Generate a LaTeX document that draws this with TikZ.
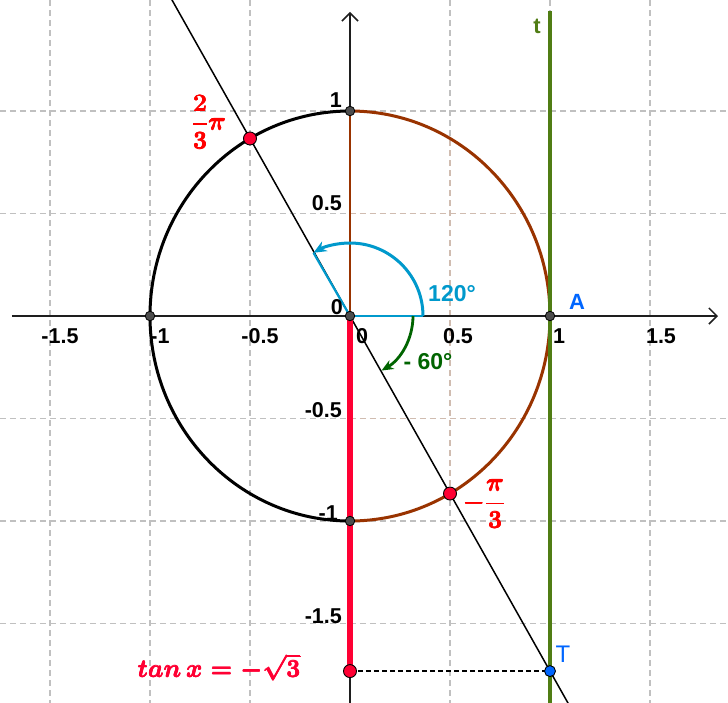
\documentclass[tikz,border=0pt]{standalone}
\usepackage[no-math]{fontspec}
\newfontfamily\lsans{Liberation Sans}
\usetikzlibrary{arrows.meta}
\definecolor{gridgray}{RGB}{192,192,192}
\definecolor{gridbrown}{RGB}{208,188,176}
\definecolor{axiscol}{RGB}{30,30,30}
\definecolor{ggbrown}{RGB}{153,51,0}
\definecolor{ggred}{RGB}{255,0,51}
\definecolor{labred}{RGB}{255,0,0}
\definecolor{tgreen}{RGB}{80,125,20}
\definecolor{anggreen}{RGB}{0,100,0}
\definecolor{angblue}{RGB}{0,153,204}
\definecolor{ptblue}{RGB}{0,102,255}
\definecolor{ptgray}{RGB}{77,77,77}
\newcommand{\mylabfont}{\fontsize{29}{29}\selectfont\mathversion{bold}}
\newcommand{\fakebold}[1]{\leavevmode\rlap{\kern0.4pt#1}\rlap{\kern0.2pt\raisebox{0.25pt}{#1}}\rlap{\kern0.2pt\raisebox{-0.25pt}{#1}}#1\kern0.4pt}
\begin{document}
\begin{tikzpicture}[x=200pt,y=205pt,
  gridline/.style={gridgray,line width=1.3pt,dash pattern=on 6pt off 4pt},
  gridtint/.style={gridbrown,line width=1.3pt,dash pattern=on 6pt off 4pt},
  axisline/.style={axiscol,line width=1.5pt,-{Straight Barb[length=8pt,width=16pt,line width=1.5pt]}},
  circline/.style={line width=3pt},
  ticklab/.style={font=\lsans\bfseries\fontsize{21.5}{21.5}\selectfont,inner sep=0pt},
  gpt/.style={circle,fill=ptgray,draw=black,line width=0.8pt,inner sep=0pt,minimum size=9.5pt},
  rpt/.style={circle,fill=ggred,draw=black,line width=0.9pt,inner sep=0pt,minimum size=13pt},
  bpt/.style={circle,fill=ptblue,draw=black,line width=0.9pt,inner sep=0pt,minimum size=11pt},
  mathlab/.style={inner sep=0pt,font=\mylabfont}]
\clip (-1.75,-1.8829) rectangle (1.89,1.5415);
\fill[white] (-1.75,-1.8829) rectangle (1.89,1.5415);
% grid
\foreach \x in {-1.5,-1,-0.5,0.5,1,1.5} \draw[gridline] (\x,-1.95) -- (\x,1.6);
\foreach \y in {-1.5,-1,-0.5,0.5,1} \draw[gridline] (-1.8,\y) -- (1.95,\y);
\begin{scope}
  \clip (0,-1) arc[start angle=-90,end angle=90,radius=1] -- cycle;
  \foreach \x in {0.5,1} \draw[gridtint] (\x,-1.95) -- (\x,1.6);
  \foreach \y in {-1,-0.5,0.5,1} \draw[gridtint] (-1.8,\y) -- (1.95,\y);
\end{scope}
% coordinates
\coordinate (O) at (0,0);
\coordinate (A) at (1,0);
\coordinate (B) at (0,1);
\coordinate (C) at (-1,0);
\coordinate (D) at (0,-1);
\coordinate (P) at (-0.5,0.8660);
\coordinate (Q) at (0.5,-0.8660);
\coordinate (M) at (0,-1.7321);
\coordinate (T) at (1,-1.7321);
\coordinate (xs) at (-1.69,0);
\coordinate (xe) at (1.84,0);
\coordinate (ys) at (0,-1.95);
\coordinate (ye) at (0,1.483);
\coordinate (ttop) at (1,1.488);
\coordinate (tbot) at (1,-1.95);
\coordinate (Ltop) at (-0.9,1.5588);
\coordinate (Lbot) at (1.1,-1.9053);
% axes
\draw[axisline] (xs) -- (xe);
\draw[axisline] (ys) -- (ye);
% circle
\draw[circline,black] (B) arc[start angle=90,end angle=270,radius=1];
\draw[circline,ggbrown] (D) arc[start angle=-90,end angle=90,radius=1];
% line through origin
\draw[black,line width=1.5pt] (Ltop) -- (Lbot);
% tangent line t
\draw[tgreen,line width=3.2pt] (tbot) -- (ttop);
% segments
\draw[ggbrown,line width=2.7pt] (O) -- (B);
\draw[ggred,line width=6pt] (O) -- (M);
\draw[black,line width=1.4pt,dash pattern=on 5pt off 3pt] (M) -- (T);
% angles
\draw[angblue,line width=2.4pt] (O) -- ++(73pt,0pt);
\draw[angblue,line width=2.2pt] (O) -- ++(120:73pt);
\draw[angblue,line width=3pt,-{Stealth[length=13pt,width=11pt]}] (O) ++(73pt,0pt) arc[start angle=0,end angle=120,radius=73pt];
\draw[anggreen,line width=2.8pt,-{Stealth[length=12pt,width=10pt]}] (O) ++(63pt,0pt) arc[start angle=0,end angle=-60,radius=63pt];
% points
\node[gpt] (nB) at (B) {};
\node[gpt] (nC) at (C) {};
\node[gpt] (nD) at (D) {};
\node[gpt] (nO) at (O) {};
\node[gpt] (nA) at (A) {};
\node[rpt] (nP) at (P) {};
\node[rpt] (nQ) at (Q) {};
\node[rpt] (nM) at (M) {};
\node[bpt] (nT) at (T) {};
% tick labels x
\node[ticklab,anchor=base] (xl1) at (-1.45,-0.1317) {-1.5};
\node[ticklab,anchor=base] (xl2) at (-0.95,-0.1317) {-1};
\node[ticklab,anchor=base] (xl3) at (-0.45,-0.1317) {-0.5};
\node[ticklab,anchor=base] (xl4) at (0.06,-0.1317) {0};
\node[ticklab,anchor=base] (xl5) at (0.54,-0.1317) {0.5};
\node[ticklab,anchor=base] (xl6) at (1.045,-0.1317) {1};
\node[ticklab,anchor=base] (xl7) at (1.555,-0.1317) {1.5};
% tick labels y
\node[ticklab,anchor=base east] (yl1) at (-0.04,1.0195) {1};
\node[ticklab,anchor=base east] (yl2) at (-0.04,0.5146) {0.5};
\node[ticklab,anchor=base east] (yl3) at (-0.035,0.005) {0};
\node[ticklab,anchor=base east] (yl4) at (-0.04,-0.4927) {-0.5};
\node[ticklab,anchor=base east] (yl5) at (-0.06,-0.9951) {-1};
\node[ticklab,anchor=base east] (yl6) at (-0.04,-1.4976) {-1.5};
% other labels
\node[tgreen,font=\lsans\bfseries\fontsize{22}{22}\selectfont,inner sep=0pt] (lt) at (0.935,1.4137) {t};
\node[ptblue,font=\lsans\bfseries\fontsize{22}{22}\selectfont,inner sep=0pt] (lA) at (1.135,0.068) {A};
\node[ptblue,font=\lsans\fontsize{24}{24}\selectfont,inner sep=0pt] (lT) at (1.065,-1.649) {T};
\node[angblue,font=\lsans\bfseries\fontsize{23}{23}\selectfont,inner sep=0pt] (l120) at (0.51,0.107) {120°};
\node[anggreen,font=\lsans\bfseries\fontsize{23}{23}\selectfont,inner sep=0pt] (l60) at (0.39,-0.224) {- 60°};
\node[labred,mathlab] (lP) at (-0.705,0.946) {\fakebold{$\displaystyle\frac{2}{3}\pi$}};
\node[labred,mathlab] (lQ) at (0.67,-0.917) {\fakebold{$\displaystyle-\frac{\pi}{3}$}};
\node[ggred,mathlab,anchor=base] (ltan) at (-0.655,-1.761) {\fakebold{$tan\,x=-\sqrt{3}$}};
\end{tikzpicture}
\end{document}
